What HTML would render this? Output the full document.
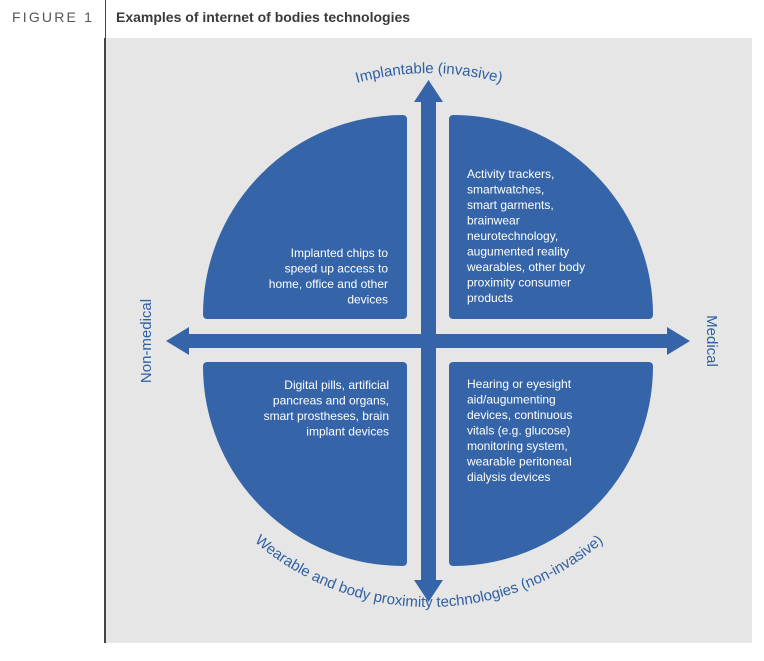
<!DOCTYPE html>
<html><head><meta charset="utf-8"><style>
body{margin:0;width:764px;height:656px;background:#fff;overflow:hidden;font-family:"Liberation Sans",Arial,sans-serif}
</style></head><body>
<svg width="764" height="656" viewBox="0 0 764 656" xmlns="http://www.w3.org/2000/svg" font-family="Liberation Sans, Arial, sans-serif">
<text x="12" y="22" font-size="14" fill="#555" letter-spacing="2.2">FIGURE 1</text>
<line x1="105.5" y1="0" x2="105.5" y2="38" stroke="#444" stroke-width="1"/>
<text x="116" y="22" font-size="14" font-weight="bold" fill="#3a3a3a">Examples of internet of bodies technologies</text>
<rect x="106" y="38" width="646" height="605" fill="#e6e6e6"/>
<line x1="105" y1="38" x2="105" y2="643" stroke="#444" stroke-width="2"/>
<g fill="#3565a8" stroke="#3565a8" stroke-width="8" stroke-linejoin="round">
<path d="M403,315 L403,119 A196,196 0 0 0 207,315 Z"/>
<path d="M453,315 L453,119 A196,196 0 0 1 649,315 Z"/>
<path d="M403,366 L207,366 A196,196 0 0 0 403,562 Z"/>
<path d="M453,366 L649,366 A196,196 0 0 1 453,562 Z"/>
</g>
<g fill="#3565a8">
<rect x="421" y="100" width="15" height="482"/>
<polygon points="428.5,80 414,102 443,102"/>
<polygon points="428.5,602 414,580 443,580"/>
<rect x="186" y="334" width="486" height="14"/>
<polygon points="166,341 189,327 189,355"/>
<polygon points="690,341 667,327 667,355"/>
</g>
<g font-size="12" fill="#fff">
<g text-anchor="end">
<text x="388" y="257">Implanted chips to</text>
<text x="388" y="272.5">speed up access to</text>
<text x="388" y="288">home, office and other</text>
<text x="388" y="303.5">devices</text>
<text x="389" y="389">Digital pills, artificial</text>
<text x="389" y="404.5">pancreas and organs,</text>
<text x="389" y="420">smart prostheses, brain</text>
<text x="389" y="435.5">implant devices</text>
</g>
<text x="467" y="178">Activity trackers,</text>
<text x="467" y="193.5">smartwatches,</text>
<text x="467" y="209">smart garments,</text>
<text x="467" y="224.5">brainwear</text>
<text x="467" y="240">neurotechnology,</text>
<text x="467" y="255.5">augumented reality</text>
<text x="467" y="271">wearables, other body</text>
<text x="467" y="286.5">proximity consumer</text>
<text x="467" y="302">products</text>
<text x="467" y="388">Hearing or eyesight</text>
<text x="467" y="403.5">aid/augumenting</text>
<text x="467" y="419">devices, continuous</text>
<text x="467" y="434.5">vitals (e.g. glucose)</text>
<text x="467" y="450">monitoring system,</text>
<text x="467" y="465.5">wearable peritoneal</text>
<text x="467" y="481">dialysis devices</text>
</g>
<defs>
<path id="topArc" d="M161,341 A268,268 0 0 1 697,341"/>
<path id="botArc" d="M163,341 A266,266 0 0 0 695,341"/>
</defs>
<g font-size="15" fill="#2f5fa3">
<text text-anchor="middle"><textPath href="#topArc" startOffset="50%">Implantable (invasive)</textPath></text>
<text text-anchor="middle"><textPath href="#botArc" startOffset="50%">Wearable and body proximity technologies (non-invasive)</textPath></text>
<text transform="translate(151,341) rotate(-90)" text-anchor="middle">Non-medical</text>
<text transform="translate(707,341) rotate(90)" text-anchor="middle">Medical</text>
</g>
</svg>
</body></html>
